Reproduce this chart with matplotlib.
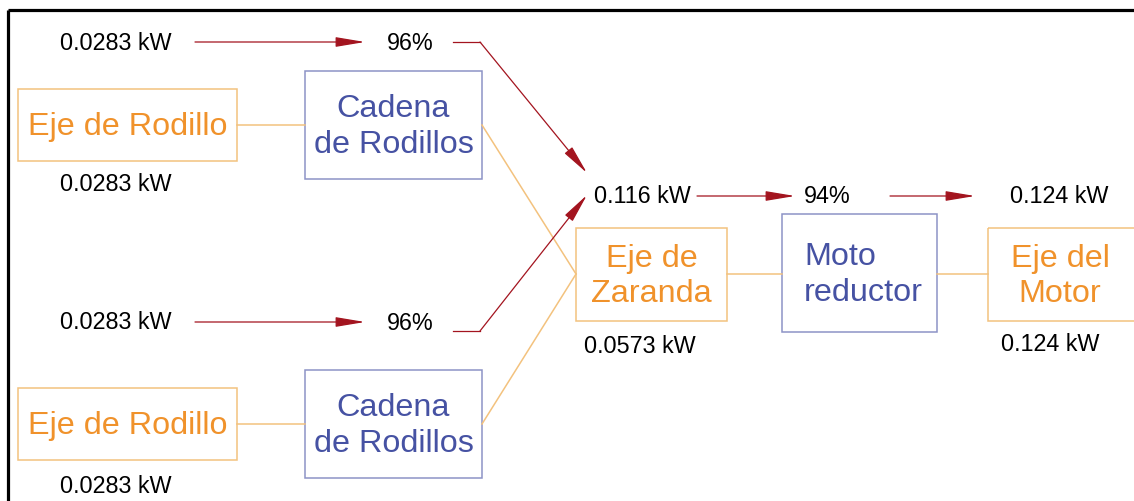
import matplotlib
matplotlib.use('Agg')
import matplotlib.pyplot as plt
from matplotlib.patches import Rectangle

# labels / values of the power flow diagram
shaft_names = ['Eje de Rodillo', 'Eje de Rodillo', 'Eje de\nZaranda', 'Eje del\nMotor']
shaft_powers = ['0.0283 kW', '0.0283 kW', '0.0573 kW', '0.124 kW']
transmission_names = ['Cadena\nde Rodillos', 'Cadena\nde Rodillos', 'Moto\nreductor']
input_powers = ['0.0283 kW', '0.0283 kW']
chain_eff = ['96%', '96%']
combined_power = '0.116 kW'
reducer_eff = '94%'
motor_power = '0.124 kW'

ORANGE_TXT = '#f0922b'
ORANGE_EDGE = '#f3c27e'
BLUE_TXT = '#4652a3'
BLUE_EDGE = '#8d93c6'
RED = '#a3141f'

plt.rcParams['font.family'] = ['Liberation Sans', 'DejaVu Sans']

fig = plt.figure(figsize=(11.34, 5.02), dpi=100)
ax = fig.add_axes([0, 0, 1, 1])
ax.set_xlim(0, 1134)
ax.set_ylim(502, 0)
ax.axis('off')

# outer frame (cut at right and bottom)
ax.plot([8, 1134], [11, 11], color='black', lw=2.3, solid_capstyle='butt')
ax.plot([8, 8], [11, 502], color='black', lw=2.3, solid_capstyle='butt')


def box(x0, y0, x1, y1, text, edge, color, ha='center', tx=None):
    ax.add_patch(Rectangle((x0, y0), x1 - x0, y1 - y0, fill=False, ec=edge, lw=1.1))
    if tx is None:
        tx = (x0 + x1) / 2
    ax.text(tx, (y0 + y1) / 2 + 1, text, ha=ha, va='center', color=color,
            fontsize=23.3, linespacing=1.22)


def arrow(x0, y0, x1, y1):
    ax.annotate('', xy=(x1, y1), xytext=(x0, y0),
                arrowprops=dict(arrowstyle='-|>,head_length=1.8,head_width=0.3',
                                mutation_scale=10, color=RED, lw=0.9,
                                shrinkA=0, shrinkB=0))


# shafts
box(18, 90, 237, 162, shaft_names[0], ORANGE_EDGE, ORANGE_TXT)
box(18, 389, 237, 461, shaft_names[1], ORANGE_EDGE, ORANGE_TXT)
box(576, 229, 727, 322, shaft_names[2], ORANGE_EDGE, ORANGE_TXT)
box(988, 229, 1150, 322, shaft_names[3], ORANGE_EDGE, ORANGE_TXT, tx=1060)

# transmissions
box(305, 72, 482, 180, transmission_names[0], BLUE_EDGE, BLUE_TXT)
box(305, 371, 482, 479, transmission_names[1], BLUE_EDGE, BLUE_TXT)
box(782, 215, 937, 333, transmission_names[2], BLUE_EDGE, BLUE_TXT, ha='left', tx=804)

# connections
oc = dict(color=ORANGE_EDGE, lw=1.1)
ax.plot([237, 305], [126, 126], **oc)
ax.plot([237, 305], [425, 425], **oc)
ax.plot([482, 576], [126, 275], **oc)
ax.plot([482, 576], [425, 275], **oc)
ax.plot([727, 782], [275, 275], **oc)
ax.plot([937, 988], [275, 275], **oc)

# power values under shafts
vk = dict(ha='center', va='center', color='black', fontsize=16.8)
ax.text(116, 185, shaft_powers[0], **vk)
ax.text(116, 487, shaft_powers[1], **vk)
ax.text(640, 347, shaft_powers[2], **vk)
ax.text(1050, 345, shaft_powers[3], **vk)

# power flow
ax.text(116, 43, input_powers[0], **vk)
ax.text(116, 323, input_powers[1], **vk)
ax.text(410, 43, chain_eff[0], **vk)
ax.text(410, 324, chain_eff[1], **vk)
arrow(195, 43, 365, 43)
arrow(195, 323, 365, 323)
ax.plot([453, 480], [43, 43], color=RED, lw=0.9)
arrow(480, 43, 587, 174)
ax.plot([453, 480], [332, 332], color=RED, lw=0.9)
arrow(480, 332, 587, 196)

ax.text(642, 197, combined_power, **vk)
arrow(697, 197, 795, 197)
ax.text(827, 197, reducer_eff, **vk)
arrow(890, 197, 975, 197)
ax.text(1059, 197, motor_power, **vk)

fig.savefig('out.png', dpi=100)
